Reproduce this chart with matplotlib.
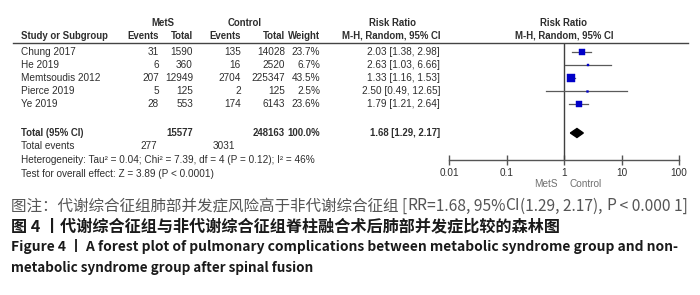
import matplotlib
matplotlib.use("Agg")
import matplotlib.pyplot as plt
from matplotlib.lines import Line2D

# data
studies = ["Chung 2017", "He 2019", "Memtsoudis 2012", "Pierce 2019", "Ye 2019"]
mets_events = [31, 6, 207, 5, 28]
mets_total = [1590, 360, 12949, 125, 553]
ctrl_events = [135, 16, 2704, 2, 174]
ctrl_total = [14028, 2520, 225347, 125, 6143]
weights = [23.7, 6.7, 43.5, 2.5, 23.6]
rr = [2.03, 2.63, 1.33, 2.50, 1.79]
rr_lo = [1.38, 1.03, 1.16, 0.49, 1.21]
rr_hi = [2.98, 6.66, 1.53, 12.65, 2.64]

total_mets, total_ctrl = 15577, 248163
events_mets, events_ctrl = 277, 3031
pooled, pooled_lo, pooled_hi = 1.68, 1.29, 2.17

xticks = [0.01, 0.1, 1, 10, 100]
xtick_labels = ["0.01", "0.1", "1", "10", "100"]

W, H = 700, 295
fig = plt.figure(figsize=(W / 100, H / 100), dpi=100)

TXT = "#2e2e2e"
TFONT = "Liberation Sans"
TS = 7.2
BS = 6.9


def px(x, y):
    return x / W, 1 - y / H


def tt(x, y, s, ha="left", bold=False, color=TXT, size=None):
    fx, fy = px(x, y)
    if size is None:
        size = BS if bold else TS
    fig.text(fx, fy, s, ha=ha, va="center", family=TFONT, size=size,
             weight="bold" if bold else "normal", color=color)


# column right edges
c_ev1, c_tot1, c_ev2, c_tot2, c_w, c_rr = 159, 193, 241, 285, 320, 440

# header
tt(163, 23, "MetS", ha="center", bold=True)
tt(245, 23, "Control", ha="center", bold=True)
tt(392, 23, "Risk Ratio", ha="center", bold=True)
tt(564, 23, "Risk Ratio", ha="center", bold=True)
tt(21, 36, "Study or Subgroup", bold=True)
tt(c_ev1, 36, "Events", ha="right", bold=True)
tt(c_tot1, 36, "Total", ha="right", bold=True)
tt(c_ev2, 36, "Events", ha="right", bold=True)
tt(c_tot2, 36, "Total", ha="right", bold=True)
tt(c_w, 36, "Weight", ha="right", bold=True)
tt(c_rr, 36, "M-H, Random, 95% CI", ha="right", bold=True)
tt(564, 36, "M-H, Random, 95% CI", ha="center", bold=True)
x0, y0 = px(13, 42.5)
x1, _ = px(688, 42.5)
fig.add_artist(Line2D([x0, x1], [y0, y0], transform=fig.transFigure,
                      color="#444444", lw=1.0))

row_y = [52 + 13 * i for i in range(len(studies))]
total_y = 133

for i, name in enumerate(studies):
    y = row_y[i]
    tt(21, y, name)
    tt(c_ev1, y, str(mets_events[i]), ha="right")
    tt(c_tot1, y, str(mets_total[i]), ha="right")
    tt(c_ev2, y, str(ctrl_events[i]), ha="right")
    tt(c_tot2, y, str(ctrl_total[i]), ha="right")
    tt(c_w, y, "%.1f%%" % weights[i], ha="right")
    tt(c_rr, y, "%.2f [%.2f, %.2f]" % (rr[i], rr_lo[i], rr_hi[i]), ha="right")

tt(21, total_y, "Total (95% CI)", bold=True)
tt(c_tot1, total_y, str(total_mets), ha="right", bold=True)
tt(c_tot2, total_y, str(total_ctrl), ha="right", bold=True)
tt(c_w, total_y, "100.0%", ha="right", bold=True)
tt(c_rr, total_y, "%.2f [%.2f, %.2f]" % (pooled, pooled_lo, pooled_hi), ha="right", bold=True)
tt(21, total_y + 13, "Total events")
tt(c_ev1 - 2, total_y + 13, str(events_mets), ha="right")
tt(c_ev2 - 6, total_y + 13, str(events_ctrl), ha="right")
tt(21, total_y + 27, "Heterogeneity: Tau\u00b2 = 0.04; Chi\u00b2 = 7.39, df = 4 (P = 0.12); I\u00b2 = 46%")
tt(21, total_y + 41, "Test for overall effect: Z = 3.89 (P < 0.0001)")

# forest panel, y axis in pixel rows
ax_top, ax_bot = 42.5, 160
ax = fig.add_axes([449 / W, 1 - ax_bot / H, 230 / W, (ax_bot - ax_top) / H])
ax.set_xscale("log")
ax.set_xlim(0.01, 100)
ax.set_ylim(ax_bot, ax_top)
ax.patch.set_alpha(0)
for sp in ["top", "left", "right"]:
    ax.spines[sp].set_visible(False)
ax.spines["bottom"].set_color("#555555")
ax.spines["bottom"].set_linewidth(1.0)
ax.set_yticks([])
ax.set_xticks(xticks)
ax.set_xticklabels(xtick_labels)
ax.minorticks_off()
ax.tick_params(axis="x", direction="inout", length=7, width=1.0, color="#555555",
               labelsize=TS, labelcolor=TXT, pad=2)
for lab in ax.get_xticklabels():
    lab.set_family(TFONT)

ax.axvline(1, color="#404040", lw=1.0)

for i in range(len(studies)):
    y = row_y[i]
    ax.plot([rr_lo[i], rr_hi[i]], [y, y], color="#5a5a5a", lw=0.9)
    side = 1.15 * weights[i] ** 0.5
    ax.plot(rr[i], y, "s", ms=side * 0.72, color="#0000c8", mec="#0000c8", mew=0.3)

ax.fill([pooled_lo, pooled, pooled_hi, pooled], [total_y, total_y - 4.5, total_y, total_y + 4.5],
        color="black")

tt(558, 184, "MetS", ha="right", color="#707070")
tt(570, 184, "Control", color="#707070")

# caption
CJK = ["Noto Sans CJK SC", "DejaVu Sans"]
renderer = fig.canvas.get_renderer()


def seg_line(x, y, segs, target_w, base=10.0):
    # segs: (text, weight, style, color)
    def draw(size):
        arts = []
        cx = x
        for s, wt, st, col in segs:
            fx, fy = px(cx, y)
            t = fig.text(fx, fy, s, ha="left", va="center", family=CJK, size=size,
                         weight=wt, style=st, color=col)
            w = t.get_window_extent(renderer).width
            cx += w
            arts.append(t)
        return arts, cx - x

    arts, w = draw(base)
    for a in arts:
        a.remove()
    draw(base * target_w / w)


G = "#555555"
D = "#1a1a1a"
seg_line(11, 206, [("图注：代谢综合征组肺部并发症风险高于非代谢综合征组 [", "normal", "normal", G),
                   ("RR", "normal", "italic", G),
                   ("=1.68, 95%", "normal", "normal", G),
                   ("CI", "normal", "italic", G),
                   ("(1.29, 2.17), ", "normal", "normal", G),
                   ("P", "normal", "italic", G),
                   (" < 0.000 1]", "normal", "normal", G)], 679)
seg_line(11, 226, [("图 4 丨代谢综合征组与非代谢综合征组脊柱融合术后肺部并发症比较的森林图", "bold", "normal", D)], 548)
seg_line(11, 247, [("Figure 4 丨 A forest plot of pulmonary complications between metabolic syndrome group and non-",
                    "bold", "normal", D)], 669)
seg_line(11, 268, [("metabolic syndrome group after spinal fusion", "bold", "normal", D)], 304)

fig.savefig("out.png", dpi=100)
